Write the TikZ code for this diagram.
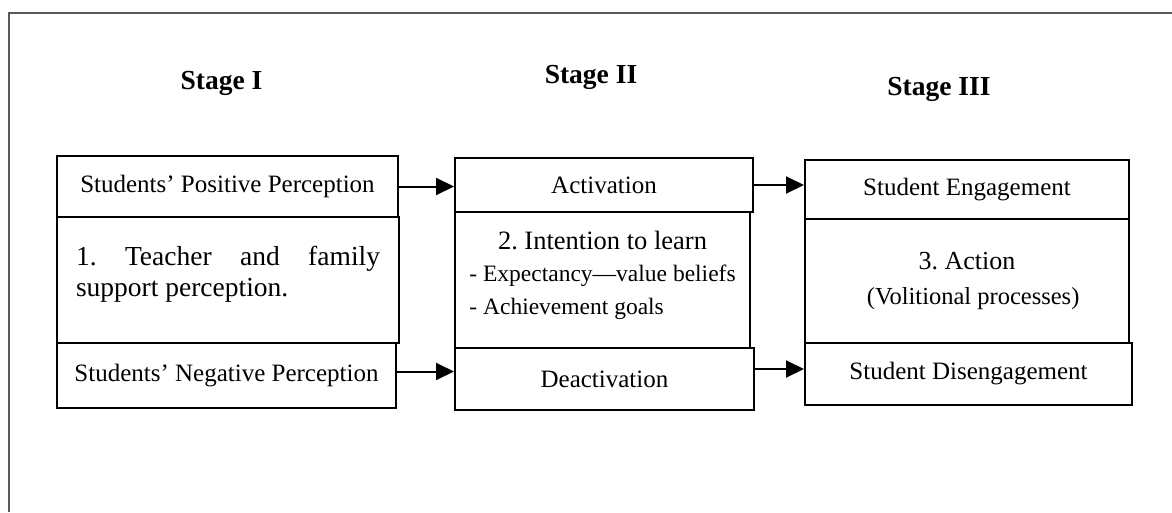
\documentclass[tikz,border=0pt]{standalone}
\usepackage{fontspec}
\setmainfont{Liberation Serif}
\usetikzlibrary{arrows.meta}
\begin{document}
\begin{tikzpicture}[x=1pt,y=-1pt,
  frame/.style={draw=black!65, line width=1.5pt},
  box/.style={draw, line width=2pt, inner sep=0pt, anchor=north west, align=center,
    font=\fontsize{25}{30}\selectfont},
  stage/.style={anchor=base, font=\bfseries\fontsize{27.5}{32}\selectfont},
  arr/.style={line width=2pt, -{Triangle[length=18pt,width=17pt]}}]
\useasboundingbox (0,0) rectangle (1172,512);
% outer frame (open at right and bottom)
\draw[frame] (9,512) -- (9,13) -- (1172,13);

% stage headings
\node[stage] (s1) at (221.5,89) {Stage I};
\node[stage] (s2) at (591,83) {Stage II};
\node[stage] (s3) at (939,95) {Stage III};

% Stage I column
\node[box, minimum width=341pt, minimum height=61pt] (pos) at (56,155) {Students’ Positive Perception};
\node[box, minimum width=342pt, minimum height=126pt] (sup) at (56,216)
  {\parbox{304pt}{\frenchspacing\fontsize{27.5}{31}\selectfont 1. Teacher and family\linebreak support perception.}\\[4pt]};
\node[box, minimum width=339pt, minimum height=65pt] (neg) at (56,342) {Students’ Negative Perception};

% Stage II column
\node[box, minimum width=298pt, minimum height=54pt] (act) at (454,157) {Activation};
\node[box, minimum width=295pt, minimum height=136pt] (int) at (454,211)
  {\begin{tabular}{@{}l@{}}
    \multicolumn{1}{@{}c@{}}{\fontsize{26.5}{32}\selectfont 2.\ Intention to learn}\\[2pt]
    {\fontsize{23.5}{28}\selectfont - Expectancy—value beliefs}\\[3pt]
    {\fontsize{23.5}{28}\selectfont - Achievement goals}\\[9pt]
   \end{tabular}};
\node[box, minimum width=299pt, minimum height=62pt] (dea) at (454,347) {Deactivation};

% Stage III column
\node[box, minimum width=324pt, minimum height=59pt] (eng) at (804,159) {Student Engagement};
\node[box, minimum width=324pt, minimum height=124pt] (actn) at (804,218)
  {{\fontsize{26}{30}\selectfont 3.\ Action}\\[5pt] {\fontsize{24.5}{30}\selectfont\ \ (Volitional processes)}};
\node[box, minimum width=327pt, minimum height=62pt] (dis) at (804,342) {Student Disengagement};

% connectors between stages
\draw[arr] (pos.east) -- (pos.east -| act.west);
\draw[arr] ([yshift=4pt]neg.east) -- ([yshift=4pt]neg.east -| dea.west);
\draw[arr] (act.east) -- (act.east -| eng.west);
\draw[arr] ([yshift=10pt]dea.east) -- ([yshift=10pt]dea.east -| dis.west);
\end{tikzpicture}
\end{document}
